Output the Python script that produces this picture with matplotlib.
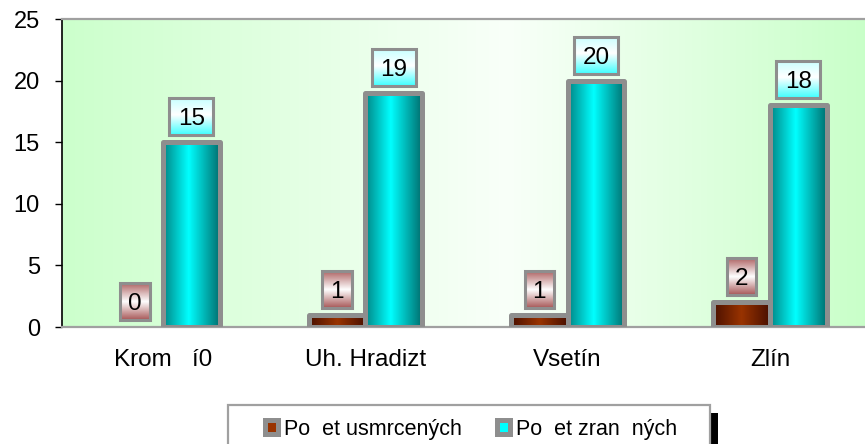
import matplotlib
matplotlib.use("Agg")
import matplotlib.pyplot as plt
import numpy as np
from matplotlib.colors import LinearSegmentedColormap
from matplotlib.patches import Patch, Rectangle

# hodnoty
districts = ["Krom   í0", "Uh. Hradizt", "Vsetín", "Zlín"]
killed = [0, 1, 1, 2]
injured = [15, 19, 20, 18]
series_names = ["Po  et usmrcených", "Po  et zran  ných"]
y_ticks = [0, 5, 10, 15, 20, 25]

W, H, DPI = 865, 444, 100
GRAY = "#8e8e8e"
BROWN = "#993300"
CYAN = "#00ffff"

plt.rcParams["font.family"] = ["Liberation Sans", "DejaVu Sans"]

fig = plt.figure(figsize=(W / DPI, H / DPI), dpi=DPI)
fig.patch.set_facecolor("white")

# plocha grafu v pixelech (vpravo přesahuje okraj obrázku)
ax_left, ax_right, ax_top, ax_bottom = 62, 871, 19, 327
ax = fig.add_axes([ax_left / W, 1 - ax_bottom / H,
                   (ax_right - ax_left) / W, (ax_bottom - ax_top) / H])
y_max = y_ticks[-1]
px_x = (ax_right - ax_left) / len(districts)
px_y = (ax_bottom - ax_top) / y_max

bg_cmap = LinearSegmentedColormap.from_list(
    "bg", [(0, "#ccffcc"), (0.55, "#f9fff9"), (1, "#c8ffc8")])
cyan_cmap = LinearSegmentedColormap.from_list(
    "cyan", [(0, "#008585"), (0.45, CYAN), (1, "#007070")])
brown_cmap = LinearSegmentedColormap.from_list(
    "brown", [(0, "#4a1000"), (0.5, BROWN), (1, "#4a1000")])
cyan_box_cmap = LinearSegmentedColormap.from_list(
    "cyan_box", [(0, "#c8ffff"), (0.45, "#ffffff"), (1, "#40ffff")])
brown_box_cmap = LinearSegmentedColormap.from_list(
    "brown_box", [(0, "#b06666"), (0.5, "#ffffff"), (1, "#a85858")])

ax.imshow(np.linspace(0, 1, 256)[None, :], cmap=bg_cmap, extent=[0, 1, 0, 1],
          transform=ax.transAxes, aspect="auto", zorder=0)

x = np.arange(len(districts))
bar_w = 0.28


def draw_series(xs, values, cmap, box_cmap):
    bars = ax.bar(xs, values, bar_w, facecolor="none", edgecolor=GRAY,
                  linewidth=3.6, joinstyle="round", zorder=3)
    for patch, value in zip(bars.patches, values):
        x0, w = patch.get_x(), patch.get_width()
        if value == 0:
            patch.set_linewidth(0)
        else:
            ax.imshow(np.linspace(0, 1, 128)[None, :], cmap=cmap,
                      extent=[x0, x0 + w, 0, value], aspect="auto", zorder=2)
        # popisek hodnoty v rámečku
        text = str(value)
        xc = x0 + w / 2
        bw = (15 + 14.5 * len(text)) / px_x
        bh = 37 / px_y
        yc = value + 25.5 / px_y
        ax.imshow(np.linspace(0, 1, 64)[:, None], cmap=box_cmap,
                  extent=[xc - bw / 2, xc + bw / 2, yc - bh / 2, yc + bh / 2],
                  aspect="auto", zorder=4)
        ax.add_patch(Rectangle((xc - bw / 2, yc - bh / 2), bw, bh, fill=False,
                               edgecolor=GRAY, linewidth=2.2, zorder=5))
        ax.text(xc, yc - 8.4 / px_y, text, ha="center", va="baseline",
                fontsize=17.5, zorder=6)


draw_series(x - bar_w / 2, killed, brown_cmap, brown_box_cmap)
draw_series(x + bar_w / 2, injured, cyan_cmap, cyan_box_cmap)

ax.set_xlim(-0.5, len(districts) - 0.5)
ax.set_ylim(0, y_max)
ax.set_xticks(x, districts)
ax.set_yticks(y_ticks)
ax.tick_params(axis="x", length=0, pad=16, labelsize=17.5)
ax.tick_params(axis="y", length=5, width=1, pad=11, labelsize=17)

ax.spines["top"].set_color("#a0a0a0")
ax.spines["top"].set_linewidth(1.6)
ax.spines["bottom"].set_color("#a0a0a0")
ax.spines["bottom"].set_linewidth(1.6)
ax.spines["left"].set_color("black")
ax.spines["left"].set_linewidth(1.2)
ax.spines["right"].set_visible(False)

# rámeček legendy se stínem
box_x0, box_x1, box_y0 = 228, 710, 405
shadow = Rectangle(((box_x0 + 8) / W, -0.1), (box_x1 - box_x0) / W,
                   1 - (box_y0 + 8) / H + 0.1, transform=fig.transFigure,
                   facecolor="black", edgecolor="none", zorder=1)
frame = Rectangle((box_x0 / W, -0.1), (box_x1 - box_x0) / W,
                  1 - box_y0 / H + 0.1, transform=fig.transFigure,
                  facecolor="white", edgecolor="#a0a0a0", linewidth=1.6, zorder=2)
fig.add_artist(shadow)
fig.add_artist(frame)

handles = [Patch(facecolor=BROWN, edgecolor=GRAY, linewidth=3.6, joinstyle="round"),
           Patch(facecolor=CYAN, edgecolor=GRAY, linewidth=3.6, joinstyle="round")]
leg = fig.legend(handles, series_names, loc="center",
                 bbox_to_anchor=(471 / W, 1 - 429 / H), ncol=2, frameon=False,
                 fontsize=15.5, handlelength=0.6, handleheight=0.6,
                 handletextpad=0.3, columnspacing=1.6)
leg.set_zorder(3)

fig.savefig("out.png", dpi=DPI)
